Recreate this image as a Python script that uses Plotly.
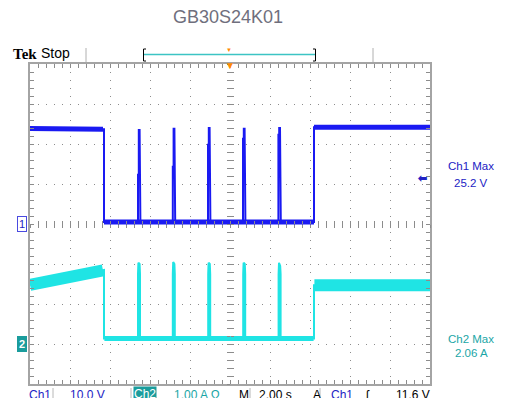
import plotly.graph_objects as go

# ============================
# Scope capture values
# ============================

# Ch1 (10 V/div) - waveform breakpoints, time in s (2 s/div, trigger at 0)
ch1_t = [-10, -6.3, -6.3,
         -4.6, -4.6, -4.56, -4.56, -4.52, -4.48,
         -2.86, -2.86, -2.82, -2.82, -2.78, -2.74,
         -1.1, -1.1, -1.06, -1.06, -1.02, -0.98,
         0.65, 0.65, 0.69, 0.69, 0.73, 0.77,
         2.42, 2.42, 2.46, 2.46, 2.5, 2.54,
         4.2, 4.2, 10]
ch1_v = [23.9, 23.7, 0.5,
         0.5, 12.3, 12.3, 23.5, 23.5, 0.5,
         0.5, 14.3, 14.3, 23.8, 23.8, 0.5,
         0.5, 19.8, 19.8, 24.0, 24.0, 0.5,
         0.5, 21.3, 21.3, 23.8, 23.8, 0.5,
         0.5, 22.3, 22.3, 24.0, 24.0, 0.5,
         0.5, 24.2, 24.2]

# Ch1 flat levels (noise band)
ch1_band_t = [-10, -6.35, None, -6.3, 4.2, None, 4.2, 10]
ch1_band_v = [23.9, 23.7, None, 0.5, 0.5, None, 24.2, 24.2]

# Ch2 (1 A/div)
ch2_t = [-10, -8.5, -7, -6.3, -6.3,
         -4.6, -4.6, -4.58, -4.52, -4.5, -4.5,
         -2.86, -2.86, -2.84, -2.78, -2.76, -2.76,
         -1.09, -1.09, -1.07, -1.01, -0.99, -0.99,
         0.66, 0.66, 0.68, 0.74, 0.76, 0.76,
         2.43, 2.43, 2.45, 2.51, 2.53, 2.53,
         4.2, 4.2, 10]
ch2_a = [1.48, 1.6, 1.78, 1.85, 0.14,
         0.14, 1.75, 2.03, 2.0, 1.75, 0.14,
         0.14, 1.75, 2.05, 2.0, 1.75, 0.14,
         0.14, 1.75, 2.03, 2.0, 1.75, 0.14,
         0.14, 1.75, 2.03, 2.0, 1.75, 0.14,
         0.14, 1.75, 2.03, 1.95, 1.75, 0.14,
         0.14, 1.47, 1.47]

ch2_high_t = [-10, -8.5, -7, -6.35, None, 4.22, 10]
ch2_high_a = [1.48, 1.6, 1.78, 1.84, None, 1.47, 1.47]
ch2_low_t = [-6.28, 4.18]
ch2_low_a = [0.14, 0.14]

ch1_max = "25.2 V"
ch2_max = "2.06 A"
trig_level = 11.6

BLUE = '#1a1af2'
BLUE_TXT = '#2222c4'
CYAN = '#1fe4e4'
TEAL_TXT = '#1aa6a6'
TEAL_BOX = '#1a9c9c'
GRID = '#8c8c8c'
FONT = 'Liberation Sans, Arial, sans-serif'

# the page body adds an 8 px margin, so the figure is laid out 8 px smaller
OFF = 8
W, H = 506 - OFF, 398 - OFF
# plot area, in screen pixels
L, R, T, B = 30, 430, 64, 384


def px(x):
    return (x - L) / (R - L)


def py(y):
    return (B - y) / (B - T)


fig = go.Figure()

fig.add_trace(go.Scatter(x=ch1_t, y=ch1_v, mode='lines',
                         line=dict(color=BLUE, width=2),
                         yaxis='y', showlegend=False))
fig.add_trace(go.Scatter(x=ch1_band_t, y=ch1_band_v, mode='lines',
                         line=dict(color=BLUE, width=5),
                         yaxis='y', showlegend=False))
fig.add_trace(go.Scatter(x=ch2_t, y=ch2_a, mode='lines',
                         line=dict(color=CYAN, width=2),
                         yaxis='y2', showlegend=False))
fig.add_trace(go.Scatter(x=ch2_high_t, y=ch2_high_a, mode='lines',
                         line=dict(color=CYAN, width=12),
                         yaxis='y2', showlegend=False))
fig.add_trace(go.Scatter(x=ch2_low_t, y=ch2_low_a, mode='lines',
                         line=dict(color=CYAN, width=5),
                         yaxis='y2', showlegend=False))

# dummy traces so the centre-cross axes get drawn
for xa, ya in [('x3', 'y'), ('x4', 'y'), ('x', 'y3'), ('x', 'y4')]:
    fig.add_trace(go.Scatter(x=[None], y=[None], xaxis=xa, yaxis=ya,
                             showlegend=False, hoverinfo='skip'))

frame = dict(showline=True, linecolor='#a4a4a4', linewidth=2, mirror='allticks',
             ticks='inside', ticklen=4, tickcolor=GRID, tickwidth=1,
             showticklabels=False, zeroline=False,
             showgrid=True, gridcolor=GRID, gridwidth=1.2, griddash='1px,7px',
             fixedrange=True)

fig.update_layout(
    width=W, height=H,
    margin=dict(l=L - OFF, r=506 - R, t=T - OFF, b=398 - B),
    paper_bgcolor='white', plot_bgcolor='white',
    xaxis=dict(range=[-10, 10], dtick=2, tick0=0,
               minor=dict(dtick=0.4, ticklen=3, tickcolor=GRID, ticks='inside'),
               **frame),
    yaxis=dict(range=[-40, 40], dtick=10, tick0=0,
               minor=dict(dtick=2, ticklen=3, tickcolor=GRID, ticks='inside'),
               **frame),
    yaxis2=dict(range=[-1, 7], overlaying='y', visible=False, fixedrange=True),
    xaxis3=dict(range=[-10, 10], overlaying='x', anchor='free', position=0.5,
                showline=False, showgrid=False, zeroline=False, showticklabels=False,
                ticks='inside', ticklen=3, tickcolor=GRID, dtick=0.4, tick0=0),
    xaxis4=dict(range=[-10, 10], overlaying='x', anchor='free', position=0.5,
                showline=False, showgrid=False, zeroline=False, showticklabels=False,
                ticks='outside', ticklen=3, tickcolor=GRID, dtick=0.4, tick0=0),
    yaxis3=dict(range=[-40, 40], overlaying='y', anchor='free', position=0.5,
                showline=False, showgrid=False, zeroline=False, showticklabels=False,
                ticks='inside', ticklen=3, tickcolor=GRID, dtick=2, tick0=0),
    yaxis4=dict(range=[-40, 40], overlaying='y', anchor='free', position=0.5,
                showline=False, showgrid=False, zeroline=False, showticklabels=False,
                ticks='outside', ticklen=3, tickcolor=GRID, dtick=2, tick0=0),
)

ann = []


def text(x, y, s, color='black', size=12, xanchor='left', yanchor='middle',
         xref='paper', yref='paper', **kw):
    ann.append(dict(x=x, y=y, text=s, xref=xref, yref=yref, showarrow=False,
                    xanchor=xanchor, yanchor=yanchor,
                    font=dict(family=FONT, size=size, color=color), **kw))


# title
text(px(228), py(17), 'GB30S24K01', color='#6f6f7d', size=18, xanchor='center')

# status line
text(px(11), py(54), '<b>Tek</b>', size=15, color='black')
ann[-1]['font']['family'] = 'Liberation Serif, serif'
text(px(39), py(53), 'Stop', size=14)

# channel ground markers
text(px(27), 0, '1', color=BLUE_TXT, size=11, xanchor='right', yref='y',
     bgcolor='white', bordercolor='#4a4ae0', borderwidth=1, borderpad=1)
text(px(27), 0, '<b>2</b>', color='white', size=11, xanchor='right', yref='y2',
     bgcolor=TEAL_BOX, bordercolor=TEAL_BOX, borderwidth=1, borderpad=1)

# trigger level arrow
text(px(429), trig_level, '<b>⬅</b>', color=BLUE_TXT, size=11, xanchor='right', yref='y')

# measurement readouts
text(px(471), py(166), 'Ch1 Max', color=BLUE_TXT, size=11.5, xanchor='center')
text(px(471), py(183), ch1_max, color=BLUE_TXT, size=11.5, xanchor='center')
text(px(471), py(339), 'Ch2 Max', color=TEAL_TXT, size=11.5, xanchor='center')
text(px(471), py(353), ch2_max, color=TEAL_TXT, size=11.5, xanchor='center')

# trigger position markers
text(0, py(66), '▼', color='#ff8a00', size=10, xanchor='center', xref='x')
text(px(229), py(50), '▼', color='#ff8a00', size=6, xanchor='center')

# bottom readout row (clipped by the window edge, as on the capture)
yb = py(386)
text(px(27), yb, 'Ch1', color=BLUE_TXT, yanchor='top')
text(px(68), yb, '10.0 V', color=BLUE_TXT, yanchor='top')
text(px(133), yb, 'Ch2', color='white', yanchor='top', bgcolor=TEAL_BOX, borderpad=0)
text(px(172), yb, '1.00 A Ω', color=TEAL_TXT, yanchor='top')
text(px(237), yb, 'M', yanchor='top')
text(px(257), yb, '2.00 s', yanchor='top')
text(px(311), yb, 'A', yanchor='top')
text(px(329), yb, 'Ch1', color=BLUE_TXT, yanchor='top')
text(px(363), yb, 'ʃ', yanchor='top')
text(px(432), yb, '11.6 V', xanchor='right', yanchor='top')

fig.update_layout(annotations=ann)

shapes = []


def seg(x0, y0, x1, y1, color='black', width=1):
    shapes.append(dict(type='line', xref='paper', yref='paper',
                       x0=px(x0), y0=py(y0), x1=px(x1), y1=py(y1),
                       line=dict(color=color, width=width)))


# record-length bar
seg(86, 48, 86, 62, color='#b0b0b0')
seg(373, 48, 373, 62, color='#b0b0b0')
seg(143.5, 49, 143.5, 61)
seg(143.5, 49, 146, 49)
seg(143.5, 61, 146, 61)
seg(315.5, 49, 315.5, 61)
seg(313, 49, 315.5, 49)
seg(313, 61, 315.5, 61)
seg(144, 54.5, 315, 54.5, color='#3cc4c4', width=1.5)

# readout separators
for xs in [53, 131, 250, 320]:
    seg(xs, 388, xs, 398, color='#b8b8b8')

fig.update_layout(shapes=shapes)

fig.write_html('out.html')
